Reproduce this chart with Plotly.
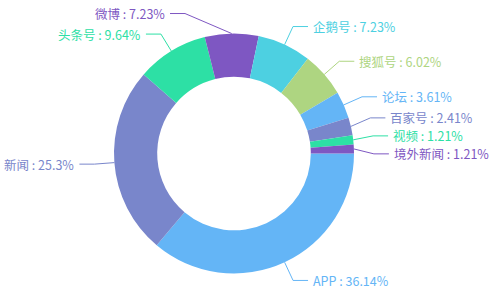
import math
import plotly.graph_objects as go

# ---- data ----
categories = ["APP", "新闻", "头条号", "微博", "企鹅号", "搜狐号", "论坛", "百家号", "视频", "境外新闻"]
percents = [36.14, 25.3, 9.64, 7.23, 7.23, 6.02, 3.61, 2.41, 1.21, 1.21]
palette = ["#64b5f6", "#7986cb", "#2de0a5", "#7e57c2", "#4dd0e1", "#aed581"]

# ---- layout constants ----
W, H = 495, 294
CX, CY = 234, 153.5
R = 120
HOLE = 0.64
START = 90          # degrees clockwise from 12 o'clock
L1, L2, GAP = 20, 15, 4
MIN_DX = 49
MIN_DY = 18
FONT = "Noto Sans CJK SC, Noto Sans, sans-serif"

colors = [palette[i % len(palette)] for i in range(len(categories))]
texts = [f"{c} : {p}%" for c, p in zip(categories, percents)]

fig = go.Figure()

fig.add_trace(go.Pie(
    labels=categories, values=percents, sort=False, direction="clockwise",
    rotation=START, hole=HOLE, marker=dict(colors=colors), textinfo="none",
    hoverinfo="label+percent", showlegend=False,
    domain=dict(x=[(CX - R) / W, (CX + R) / W], y=[(H - CY - R) / H, (H - CY + R) / H]),
))

# label geometry derived from the data
total = sum(percents)
items = []
acc = START
for i, p in enumerate(percents):
    span = p / total * 360
    mid = math.radians(acc + span / 2)
    acc += span
    s, c = math.sin(mid), -math.cos(mid)
    ex, ey = CX + R * s, CY + R * c
    bx, by = CX + (R + L1) * s, CY + (R + L1) * c
    side = 1 if s >= 0 else -1
    if abs(bx - CX) < MIN_DX:
        bx = CX + side * MIN_DX
    items.append(dict(i=i, side=side, ex=ex, ey=ey, bx=bx, by=by))

# spread overlapping labels apart (symmetric relaxation)
for side in (1, -1):
    grp = sorted([it for it in items if it["side"] == side], key=lambda d: d["by"])
    for _ in range(200):
        moved = False
        for a, b in zip(grp, grp[1:]):
            d = b["by"] - a["by"]
            if d < MIN_DY - 0.01:
                shift = (MIN_DY - d) / 2
                a["by"] -= shift
                b["by"] += shift
                moved = True
        if not moved:
            break

for it in items:
    i, side = it["i"], it["side"]
    hx = it["bx"] + side * L2
    fig.add_trace(go.Scatter(
        x=[it["ex"], it["bx"], hx], y=[it["ey"], it["by"], it["by"]],
        mode="lines", line=dict(color=colors[i], width=1),
        hoverinfo="skip", showlegend=False,
    ))
    fig.add_annotation(
        x=hx + side * GAP, y=it["by"], xref="x", yref="y",
        text=texts[i], showarrow=False, borderpad=0,
        xanchor="left" if side > 0 else "right", yanchor="middle",
        font=dict(family=FONT, size=12.5, color=colors[i]),
    )

fig.update_layout(
    width=W, height=H, margin=dict(l=0, r=0, t=0, b=0),
    paper_bgcolor="white", plot_bgcolor="rgba(0,0,0,0)",
    xaxis=dict(range=[0, W], visible=False, fixedrange=True),
    yaxis=dict(range=[H, 0], visible=False, fixedrange=True),
)

fig.write_html("out.html")
